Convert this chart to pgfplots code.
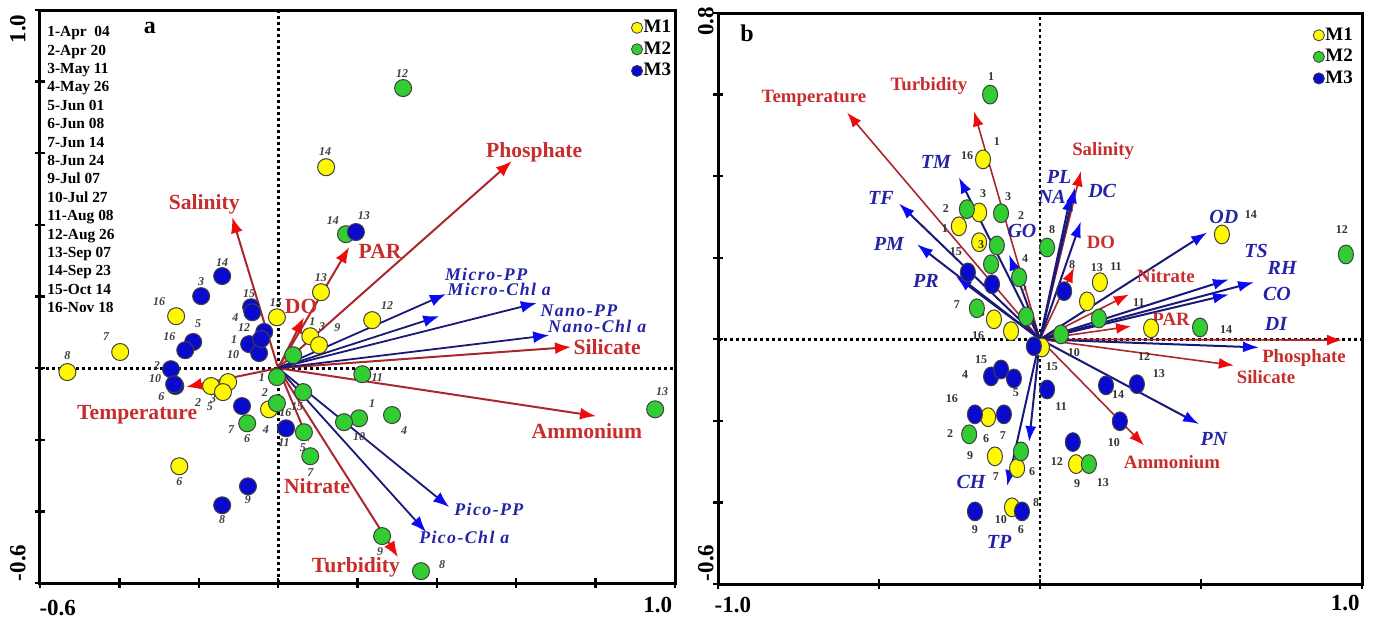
\documentclass[border=0pt]{standalone}
\usepackage{pgfplots}
\pgfplotsset{compat=1.18}
\usepackage{pgfplotstable}
\usepackage{fontspec}
\setmainfont{Liberation Serif}
\newfontfamily\lsfont[LetterSpace=8]{Liberation Serif}
\usetikzlibrary{arrows.meta}

\definecolor{mYel}{RGB}{255,248,0}
\definecolor{mGre}{RGB}{50,205,50}
\definecolor{mBlu}{RGB}{10,10,205}
\definecolor{rLine}{RGB}{170,40,45}
\definecolor{rHead}{RGB}{240,10,10}
\definecolor{rText}{RGB}{200,45,45}
\definecolor{bLine}{RGB}{25,25,120}
\definecolor{bHead}{RGB}{10,10,240}
\definecolor{bText}{RGB}{35,35,165}

% ---------------- Panel a data ----------------
\pgfplotstableread{
x y lab dx dy
-0.531 -0.011 8 0 8
-0.398 0.045 7 -7 7.5
-0.257 0.145 16 -8.5 7.5
-0.003 0.142 15 -0.5 7.5
0.108 0.212 13 0 7.5
0.081 0.089 1 1 7.5
0.103 0.064 3 1.5 9.5
0.237 0.134 12 7.5 7.5
0.121 0.561 14 -0.5 8
-0.169 -0.050 2 -6.5 -8
-0.126 -0.039 3 -7.5 -8
-0.139 -0.067 5 -6.5 -7.5
-0.023 -0.115 4 -1.5 -10
-0.249 -0.274 6 0 -7.5
}\AyelA
\pgfplotstableread{
x y lab dx dy
0.315 0.782 12 -0.5 7.5
0.171 0.374 14 -6.5 7
0.950 -0.115 13 3.5 9
0.212 -0.017 11 7.5 -1.5
0.204 -0.140 1 6.5 7.5
0.166 -0.151 10 7.5 -7
0.287 -0.131 4 6 -8
0.262 -0.469 9 -1 -7.5
0.360 -0.567 8 10.5 3.5
0.081 -0.246 7 0 -8
0.065 -0.179 5 -0.5 -7.5
0.063 -0.067 15 -3 -7
0.038 0.036 {} 0 0
-0.003 -0.025 1 -7.5 0
-0.003 -0.098 2 -6 5.5
-0.078 -0.154 6 0 -7.5
}\AgreA
\pgfplotstableread{
x y lab dx dy
-0.141 0.257 14 0 7
-0.194 0.201 3 0 7.5
-0.068 0.170 15 -1 7
-0.065 0.156 4 -8.5 -2.5
-0.035 0.101 12 -10 2
-0.073 0.067 1 -7.5 2.5
-0.048 0.042 10 -13 -0.5
-0.043 0.081 {} 0 0
-0.214 0.073 5 2.5 9
-0.234 0.050 16 -8 7
-0.270 -0.003 2 -7 2
-0.259 -0.050 6 -7 -5.5
-0.262 -0.045 10 -9.5 3
-0.091 -0.106 7 -5.5 -11.5
0.020 -0.168 11 -1 -7
-0.076 -0.330 9 0 -6.5
-0.141 -0.383 8 0 -7
0.196 0.380 13 4 8
}\AbluA

% ---------------- Panel b data ----------------
\pgfplotstableread{
x y lab dx dy
-0.177 0.441 16 -8 2
-0.189 0.311 3 2 9.5
-0.252 0.277 1 -7 -1
-0.189 0.238 3 1 -1
-0.143 0.049 5 -6 3.5
-0.090 0.020 16 -16.5 -2
0.186 0.140 13 -1.5 7.5
0.146 0.093 {} 0 0
0.006 -0.020 15 5 -9.5
0.345 0.027 12 -3.5 -14
0.565 0.257 14 14.5 10
-0.161 -0.191 6 -1 -10.5
-0.140 -0.287 7 0.5 -10
-0.071 -0.316 6 7.5 -1.5
-0.087 -0.412 10 -5.5 -6
0.112 -0.306 9 0.5 -9.5
}\ByelB
\pgfplotstableread{
x y lab dx dy
-0.155 0.600 1 0.5 9
0.950 0.208 12 -2 12.5
-0.227 0.319 2 -10.5 0.5
-0.121 0.309 3 3.5 8.5
-0.134 0.230 {} 0 0
-0.152 0.184 {} 0 0
-0.065 0.152 4 3 9.5
0.022 0.225 8 2.5 9
-0.196 0.076 7 -10 2
-0.043 0.056 {} 0 0
0.065 0.012 10 6.5 -9
0.183 0.051 {} 0 0
0.497 0.029 14 13 -1
-0.220 -0.233 2 -9.5 0.5
-0.059 -0.275 {} 0 0
0.152 -0.306 13 7 -9
}\BgreB
\pgfplotstableread{
x y lab dx dy
-0.224 0.164 15 -6 10.5
-0.149 0.135 {} 0 0
0.075 0.118 8 4 13.5
-0.019 -0.017 {} 0 0
-0.152 -0.091 4 -13 1
-0.121 -0.074 15 -10 5
-0.081 -0.096 5 1 -7
0.022 -0.123 11 7 -8.5
-0.202 -0.184 16 -11.5 8
-0.112 -0.184 7 -0.5 -10.5
-0.202 -0.422 9 0 -9
-0.056 -0.422 6 -0.5 -9
0.205 -0.113 14 6 -4.5
0.301 -0.110 13 11 5.5
0.248 -0.201 10 -3 -10.5
0.102 -0.252 12 -8 -9.5
}\BbluB

\pgfplotsset{
  bip/.style={scale only axis, clip=false,
    axis line style={line width=1.5pt},
    tick style={line width=1.2pt,black}, tick align=center, major tick length=5pt,
    xtick pos=bottom, ytick pos=left, xticklabels={}, yticklabels={},
    legend style={at={(rel axis cs:0.996,0.985)}, anchor=north east, draw=none, fill=none,
      inner sep=0pt, font=\fontsize{9.5}{10}\selectfont\bfseries, row sep=2pt,
      nodes={inner sep=0.5pt}},
    legend cell align=left,
    legend image code/.code={\draw[##1,mark size=2.8pt,mark options={}] plot coordinates {(0pt,0pt)};}},
  pts/.style n args={3}{only marks, mark=*, mark size=#2, draw=black!75, fill=#1,
    mark options={xscale=#3, line width=0.5pt},
    nodes near coords, point meta=explicit symbolic,
    visualization depends on={\thisrow{dx}\as\dx},
    visualization depends on={\thisrow{dy}\as\dy}},
  labA/.style={every node near coord/.append style={anchor=center, xshift=\dx pt, yshift=\dy pt,
    font=\fontsize{6}{6}\selectfont\bfseries\itshape, text=black!75, inner sep=0pt}},
  labB/.style={every node near coord/.append style={anchor=center, xshift=\dx pt, yshift=\dy pt,
    font=\fontsize{6}{6}\selectfont\bfseries, text=black!80, inner sep=0pt}},
  zline/.style={black, line width=1.4pt, dash pattern=on 1.4pt off 1.6pt, forget plot},
  rarrA/.style={rLine, line width=1pt, -{Latex[length=8pt,width=6pt,color=rHead]}, forget plot},
  barrA/.style={bLine, line width=0.9pt, -{Latex[length=8pt,width=6pt,color=bHead]}, forget plot},
  rarrB/.style={rLine, line width=0.8pt, -{Latex[length=7.5pt,width=5.5pt,color=rHead]}, forget plot},
  barrB/.style={bLine, line width=1pt, -{Latex[length=8pt,width=5.5pt,color=bHead]}, forget plot},
}
\tikzset{
  rlabA/.style={font=\fontsize{10.8}{11}\selectfont\bfseries, text=rText, inner sep=0pt},
  blabA/.style={font=\fontsize{8.9}{9}\selectfont\lsfont\bfseries\itshape, text=bText, inner sep=0pt},
  rlabB/.style={font=\fontsize{9.4}{10}\selectfont\bfseries, text=rText, inner sep=0pt},
  blabB/.style={font=\fontsize{10}{10}\selectfont\bfseries\itshape, text=bText, inner sep=0pt},
  nlabA/.style={font=\fontsize{6}{6}\selectfont\bfseries\itshape, text=black!75, inner sep=0pt},
  nlabB/.style={font=\fontsize{6}{6}\selectfont\bfseries, text=black!80, inner sep=0pt},
  tlab/.style={font=\fontsize{11.5}{12}\selectfont\bfseries, inner sep=0pt},
}

\begin{document}
\begin{tikzpicture}
\useasboundingbox (0,0) rectangle (689pt,-310.5pt);

% ================= Panel a =================
\begin{axis}[bip, at={(20pt,-5pt)}, anchor=north west,
  width=317.5pt, height=286.5pt,
  xmin=-0.6, xmax=1.0, ymin=-0.6, ymax=1.0,
  xtick={-0.6,-0.4,...,1.0}, ytick={-0.6,-0.4,...,1.0}]
\addplot[zline] coordinates {(0,-0.6) (0,1.0)};
\addplot[zline] coordinates {(-0.6,0) (1.0,0)};
% environmental vectors
\addplot[rarrA] coordinates {(0,0) (-0.116,0.422)};
\addplot[rarrA] coordinates {(0,0) (0.065,0.142)};
\addplot[rarrA] coordinates {(0,0) (0.179,0.338)};
\addplot[rarrA] coordinates {(0,0) (0.589,0.578)};
\addplot[rarrA] coordinates {(0,0) (0.738,0.059)};
\addplot[rarrA] coordinates {(0,0) (0.801,-0.134)};
\addplot[rarrA] coordinates {(0,0) (0.302,-0.528)};
\addplot[rarrA] coordinates {(0,0) (0.078,-0.207)};
\addplot[rarrA] coordinates {(0,0) (-0.232,-0.053)};
% phytoplankton vectors
\addplot[barrA] coordinates {(0,0) (0.423,0.207)};
\addplot[barrA] coordinates {(0,0) (0.406,0.145)};
\addplot[barrA] coordinates {(0,0) (0.652,0.182)};
\addplot[barrA] coordinates {(0,0) (0.683,0.092)};
\addplot[barrA] coordinates {(0,0) (0.431,-0.388)};
\addplot[barrA] coordinates {(0,0) (0.373,-0.458)};
% sites
\addplot[pts={mYel}{4.25pt}{1}, labA] table[x=x,y=y,meta=lab] {\AyelA};
\addlegendentry{M1}
\addplot[pts={mGre}{4.25pt}{1}, labA] table[x=x,y=y,meta=lab] {\AgreA};
\addlegendentry{M2}
\addplot[pts={mBlu}{4.25pt}{1}, labA] table[x=x,y=y,meta=lab] {\AbluA};
\addlegendentry{M3}
\node[nlabA] at (axis cs:0.149,0.112) {9};
\node[nlabA] at (axis cs:0.018,-0.123) {16};
% vector labels
\node[rlabA] at (axis cs:-0.186,0.458) {Salinity};
\node[rlabA] at (axis cs:0.058,0.173) {DO};
\node[rlabA] at (axis cs:0.257,0.327) {PAR};
\node[rlabA] at (axis cs:0.645,0.603) {Phosphate};
\node[rlabA] at (axis cs:0.829,0.059) {Silicate};
\node[rlabA] at (axis cs:0.778,-0.176) {Ammonium};
\node[rlabA] at (axis cs:0.196,-0.556) {Turbidity};
\node[rlabA] at (axis cs:0.098,-0.330) {Nitrate};
\node[rlabA] at (axis cs:-0.355,-0.131) {Temperature};
\node[blabA] at (axis cs:0.524,0.263) {Micro-PP};
\node[blabA] at (axis cs:0.557,0.221) {Micro-Chl a};
\node[blabA] at (axis cs:0.758,0.159) {Nano-PP};
\node[blabA] at (axis cs:0.804,0.117) {Nano-Chl a};
\node[blabA] at (axis cs:0.531,-0.394) {Pico-PP};
\node[blabA] at (axis cs:0.469,-0.472) {Pico-Chl a};
% sampling dates
\node[anchor=north west, align=left, inner sep=0pt,
  font=\fontsize{7.7}{9.2}\selectfont\bfseries] at (rel axis cs:0.011,0.972)
  {1-Apr\ \ 04\\2-Apr 20\\3-May 11\\4-May 26\\5-Jun 01\\6-Jun 08\\7-Jun 14\\8-Jun 24\\9-Jul 07\\10-Jul 27\\11-Aug 08\\12-Aug 26\\13-Sep 07\\14-Sep 23\\15-Oct 14\\16-Nov 18};
\node[font=\fontsize{12}{12}\selectfont\bfseries, inner sep=0pt] at (rel axis cs:0.173,0.968) {a};
% axis end labels
\node[tlab] at (rel axis cs:0.028,-0.044) {-0.6};
\node[tlab] at (rel axis cs:0.973,-0.038) {1.0};
\node[tlab, rotate=90] at (rel axis cs:-0.035,0.967) {1.0};
\node[tlab, rotate=90] at (rel axis cs:-0.035,0.035) {-0.6};
\end{axis}

% ================= Panel b =================
\begin{axis}[bip, at={(359pt,-6.5pt)}, anchor=north west,
  width=322pt, height=285.5pt,
  xmin=-1.0, xmax=1.0, ymin=-0.6, ymax=0.8,
  xtick={-1.0,-0.5,...,1.0}, ytick={-0.6,-0.4,...,0.8},
  legend style={at={(rel axis cs:0.988,0.977)}}]
\addplot[zline] coordinates {(0,-0.6) (0,0.8)};
\addplot[zline] coordinates {(-1.0,0) (1.0,0)};
% environmental vectors
\addplot[rarrB] coordinates {(0,0) (-0.599,0.556)};
\addplot[rarrB] coordinates {(0,0) (-0.205,0.559)};
\addplot[rarrB] coordinates {(0,0) (0.127,0.412)};
\addplot[rarrB] coordinates {(0,0) (0.106,0.176)};
\addplot[rarrB] coordinates {(0,0) (0.276,0.110)};
\addplot[rarrB] coordinates {(0,0) (0.283,0.032)};
\addplot[rarrB] coordinates {(0,0) (0.938,-0.002)};
\addplot[rarrB] coordinates {(0,0) (0.602,-0.064)};
\addplot[rarrB] coordinates {(0,0) (0.323,-0.260)};
% taxa vectors
\addplot[barrB] coordinates {(0,0) (-0.252,0.397)};
\addplot[barrB] coordinates {(0,0) (-0.438,0.333)};
\addplot[barrB] coordinates {(0,0) (-0.382,0.233)};
\addplot[barrB] coordinates {(0,0) (-0.261,0.154)};
\addplot[barrB] coordinates {(0,0) (-0.096,0.208)};
\addplot[barrB] coordinates {(0,0) (0.096,0.355)};
\addplot[barrB] coordinates {(0,0) (0.109,0.373)};
\addplot[barrB] coordinates {(0,0) (0.127,0.289)};
\addplot[barrB] coordinates {(0,0) (0.519,0.262)};
\addplot[barrB] coordinates {(0,0) (0.587,0.147)};
\addplot[barrB] coordinates {(0,0) (0.665,0.140)};
\addplot[barrB] coordinates {(0,0) (0.587,0.110)};
\addplot[barrB] coordinates {(0,0) (0.680,-0.020)};
\addplot[barrB] coordinates {(0,0) (0.494,-0.208)};
\addplot[barrB] coordinates {(0,0) (-0.102,-0.360)};
\addplot[barrB] coordinates {(0,0) (-0.034,-0.252)};
% sites
\addplot[pts={mYel}{4.7pt}{0.8}, labB] table[x=x,y=y,meta=lab] {\ByelB};
\addlegendentry{M1}
\addplot[pts={mGre}{4.7pt}{0.8}, labB] table[x=x,y=y,meta=lab] {\BgreB};
\addlegendentry{M2}
\addplot[pts={mBlu}{4.7pt}{0.8}, labB] table[x=x,y=y,meta=lab] {\BbluB};
\addlegendentry{M3}
\node[nlabB] at (axis cs:-0.134,0.485) {1};
\node[nlabB] at (axis cs:-0.059,0.304) {2};
\node[nlabB] at (axis cs:-0.217,-0.284) {9};
\node[nlabB] at (axis cs:0.236,0.179) {11};
\node[nlabB] at (axis cs:0.307,0.091) {11};
\node[nlabB] at (axis cs:-0.012,-0.400) {8};
\node[nlabB] at (axis cs:-0.050,0.130) {5};
% vector labels
\node[rlabB] at (axis cs:-0.702,0.591) {Temperature};
\node[rlabB] at (axis cs:-0.345,0.620) {Turbidity};
\node[rlabB] at (axis cs:0.196,0.461) {Salinity};
\node[rlabB] at (axis cs:0.189,0.238) {DO};
\node[rlabB] at (axis cs:0.391,0.154) {Nitrate};
\node[rlabB] at (axis cs:0.407,0.049) {PAR};
\node[rlabB] at (axis cs:0.820,-0.047) {Phosphate};
\node[rlabB] at (axis cs:0.702,-0.093) {Silicate};
\node[rlabB] at (axis cs:0.410,-0.301) {Ammonium};
\node[blabB] at (axis cs:-0.323,0.434) {TM};
\node[blabB] at (axis cs:-0.494,0.346) {TF};
\node[blabB] at (axis cs:-0.469,0.233) {PM};
\node[blabB] at (axis cs:-0.354,0.142) {PR};
\node[blabB] at (axis cs:-0.056,0.265) {GO};
\node[blabB] at (axis cs:0.037,0.348) {NA};
\node[blabB] at (axis cs:0.059,0.397) {PL};
\node[blabB] at (axis cs:0.193,0.363) {DC};
\node[blabB] at (axis cs:0.571,0.301) {OD};
\node[blabB] at (axis cs:0.671,0.216) {TS};
\node[blabB] at (axis cs:0.752,0.176) {RH};
\node[blabB] at (axis cs:0.736,0.110) {CO};
\node[blabB] at (axis cs:0.733,0.037) {DI};
\node[blabB] at (axis cs:0.540,-0.245) {PN};
\node[blabB] at (axis cs:-0.214,-0.350) {CH};
\node[blabB] at (axis cs:-0.127,-0.498) {TP};
\node[font=\fontsize{12}{12}\selectfont\bfseries, inner sep=0pt] at (rel axis cs:0.045,0.965) {b};
% axis end labels
\node[tlab] at (rel axis cs:0.023,-0.037) {-1.0};
\node[tlab] at (rel axis cs:0.974,-0.033) {1.0};
\node[tlab, rotate=90] at (rel axis cs:-0.019,0.985) {0.8};
\node[tlab, rotate=90] at (rel axis cs:-0.019,0.037) {-0.6};
\end{axis}
\end{tikzpicture}
\end{document}
